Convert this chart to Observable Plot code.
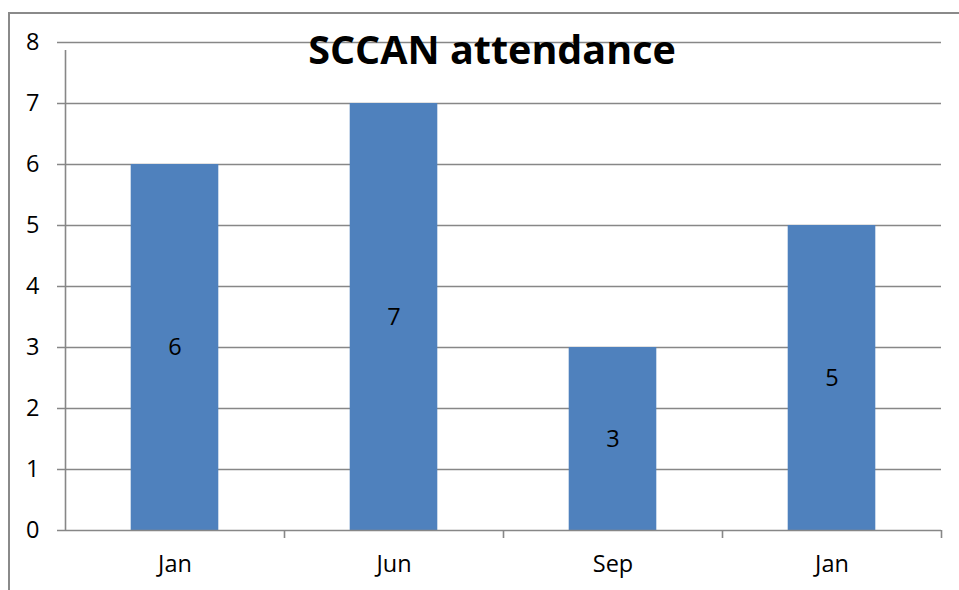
<!DOCTYPE html>
<html><head><meta charset="utf-8">
<script src="https://cdn.jsdelivr.net/npm/d3@7"></script>
<script src="https://cdn.jsdelivr.net/npm/@observablehq/plot@0.6"></script>
<style>
body{margin:0;background:#fff;font-family:"Open Sans",sans-serif}
#wrap{position:relative;width:959px;height:590px;overflow:hidden;background:#fff}
#frame{position:absolute;left:8px;top:12px;width:1200px;height:800px;border-left:2px solid #8a8a8a;border-top:2px solid #8a8a8a;box-sizing:border-box}
#chart{position:absolute;left:0;top:0}
#title{position:absolute;left:0;width:984px;top:30px;text-align:center;font-weight:bold;font-size:39.5px;line-height:39.5px;color:#000;margin:0;font-family:"Open Sans",sans-serif}
</style>
</head><body>
<div id="wrap"><div id="frame"></div><div id="chart"></div><h1 id="title">SCCAN attendance</h1></div>
<script>
const categories = ["Jan", "Jun", "Sep", "Jan"];
const values = [6, 7, 3, 5];
const yTicks = [0, 1, 2, 3, 4, 5, 6, 7, 8];

const keys = categories.map((c, i) => i);
const data = categories.map((c, i) => ({key: i, label: c, value: values[i]}));

const W = 959, H = 590, mL = 65, mR = 18, mT = 42, mB = 60;
const step = (W - mL - mR) / categories.length;
const grid = "#878787";

const chart = Plot.plot({
  width: W, height: H,
  marginLeft: mL, marginRight: mR, marginTop: mT, marginBottom: mB,
  style: {fontFamily: "'Open Sans', sans-serif", fontSize: "23.5px", color: "#000", background: "transparent"},
  x: {type: "band", domain: keys, paddingInner: 0.6, paddingOuter: 0.3, round: false},
  y: {domain: [0, 8]},
  marks: [
    Plot.ruleY(yTicks.filter(d => d > 0), {y: d => d, insetLeft: -8, stroke: grid, strokeWidth: 1.6}),
    Plot.barY(data, {x: "key", y: "value", fill: "#4F81BD"}),
    Plot.ruleY([0], {y: d => d, insetLeft: -8, stroke: grid, strokeWidth: 1.6}),
    Plot.ruleX([keys[0]], {x: d => d, dx: -step / 2, y1: 0, y2: 8, insetBottom: -8, stroke: grid, strokeWidth: 1.6}),
    Plot.ruleX(keys.slice(1), {x: d => d, dx: -step / 2, y: 0, insetBottom: -8, stroke: grid, strokeWidth: 1.6}),
    Plot.ruleX([keys[keys.length - 1]], {x: d => d, dx: step / 2, y: 0, insetBottom: -8, stroke: grid, strokeWidth: 1.6}),
    Plot.text(data, {x: "key", y: d => d.value / 2, text: d => String(d.value), fill: "#000", fontSize: 23.5}),
    Plot.axisY({ticks: yTicks, tickSize: 0, tickPadding: 26, fontSize: 23.5, fill: "#000", label: null}),
    Plot.axisX({tickSize: 0, tickPadding: 25, fontSize: 23.5, fill: "#000", label: null, tickFormat: i => categories[i]})
  ]
});
document.getElementById("chart").appendChild(chart);
</script>
</body></html>
